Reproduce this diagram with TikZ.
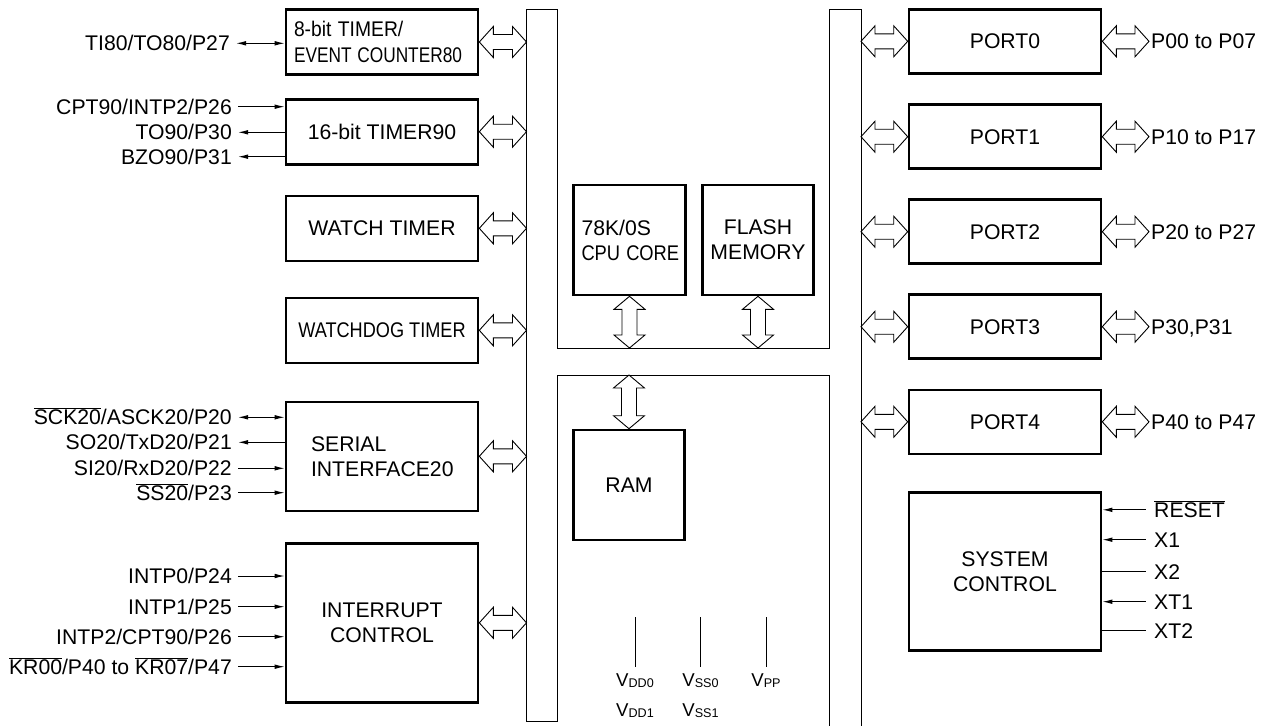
\documentclass[tikz,border=0pt]{standalone}
\usepackage{fontspec}
\setmainfont{Liberation Sans}
\usepackage{graphicx}
\usetikzlibrary{calc,arrows.meta}

\newcommand{\hollowH}[2]{%
  \draw[hollow] let \p1=(#1), \p2=(#2) in
    (\x1,\y1) -- (\x1+14pt,\y1+15.5pt) -- (\x1+14pt,\y1+7.5pt) -- (\x2-14pt,\y1+7.5pt)
    -- (\x2-14pt,\y1+15.5pt) -- (\x2,\y1) -- (\x2-14pt,\y1-15.5pt) -- (\x2-14pt,\y1-7.5pt)
    -- (\x1+14pt,\y1-7.5pt) -- (\x1+14pt,\y1-15.5pt) -- cycle;}
\newcommand{\hollowV}[2]{%
  \draw[hollow] let \p1=(#1), \p2=(#2) in
    (\x1,\y1) -- (\x1+15.5pt,\y1-13pt) -- (\x1+7.5pt,\y1-13pt) -- (\x1+7.5pt,\y2+13pt)
    -- (\x1+15.5pt,\y2+13pt) -- (\x1,\y2) -- (\x1-15.5pt,\y2+13pt) -- (\x1-7.5pt,\y2+13pt)
    -- (\x1-7.5pt,\y1-13pt) -- (\x1-15.5pt,\y1-13pt) -- cycle;}
\newcommand{\vsub}[1]{{\fontsize{18.6}{20}\selectfont V}\raisebox{-0.6pt}{\fontsize{12.6}{13}\selectfont #1}}
\newcommand{\negsig}[1]{$\overline{\mbox{#1}}$}

\begin{document}
\begin{tikzpicture}[x=1pt,y=-1pt,>={Latex[length=10pt,width=4.6pt]},
    font=\fontsize{21.2}{25}\selectfont,
    block/.style={draw,line width=2.6pt,minimum width=192pt,minimum height=65pt,inner sep=0pt},
    pin/.style={inner xsep=6pt,inner ysep=0pt,text height=15pt,text depth=0pt},
    vlab/.style={inner xsep=0pt,inner ysep=6.6pt,text height=13.3pt,text depth=0pt},
    wire/.style={line width=1pt},
    bus/.style={line width=1pt},
    hollow/.style={line width=0.9pt}]
    \useasboundingbox (0,0) rectangle (1277,726);

    % internal bus
    \coordinate (busL) at (526.5,0);
    \coordinate (busR) at (861,0);
    \coordinate (ubot) at (0,348);
    \coordinate (lowtop) at (0,375);
    \coordinate (vtop) at (0,617);
    \draw[bus] (557,375) -- (557,721) -- (526.5,721) -- (526.5,9) -- (557,9) -- (557,348)
               -- (829,348) -- (829,9) -- (861,9) -- (861,726);
    \draw[bus] (557,375) -- (829,375) -- (829,726);

    % left blocks
    \node[block,align=left,text width=176pt,font=\fontsize{21.2}{26.7}\selectfont] (tmr80) at (382,42)
        {\scalebox{0.91}[1]{8-bit TIMER/}\\\scalebox{0.815}[1]{EVENT COUNTER80}};
    \node[block] (tmr90) at (382,131.7) {16-bit TIMER90};
    \node[block] (wtch) at (382,228.3) {WATCH TIMER};
    \node[block] (wdog) at (382,330.3) {\scalebox{0.856}[1]{WATCHDOG TIMER}};
    \node[block,minimum height=109pt,align=left,text width=142pt] (sio) at (382,456.3)
        {SERIAL\\INTERFACE20};
    \node[block,minimum height=159pt,align=center] (intc) at (382,622.8) {INTERRUPT\\CONTROL};

    % core
    \node[block,minimum width=112pt,minimum height=110pt,align=left,text width=96pt] (cpu)
        at (629.5,240) {78K/0S\\\scalebox{0.864}[1]{CPU CORE}};
    \node[block,minimum width=111pt,minimum height=110pt,align=center] (flash)
        at (758,240) {FLASH\\MEMORY};
    \node[block,minimum width=111pt,minimum height=110pt] (ram) at (629,485) {RAM};

    \hollowV{cpu.south}{cpu.south |- ubot}
    \hollowV{flash.south}{flash.south |- ubot}
    \hollowV{ram.north |- lowtop}{ram.north}

    \foreach \b in {tmr80,tmr90,wtch,wdog,sio,intc} {\hollowH{\b.east}{\b.east -| busL}};

    % left pins
    \node[pin,anchor=east] (ti80) at (236,43.3) {TI80/TO80/P27};
    \node[pin,anchor=east] (cpt90) at (238,106.7) {CPT90/INTP2/P26};
    \node[pin,anchor=east] (to90) at (238,132.3) {TO90/P30};
    \node[pin,anchor=east] (bzo90) at (238,156.7) {BZO90/P31};
    \node[pin,anchor=east] (sck20) at (238,417.3) {\negsig{SCK20}/ASCK20/P20};
    \node[pin,anchor=east] (so20) at (238,442.3) {SO20/TxD20/P21};
    \node[pin,anchor=east] (si20) at (238,468.3) {SI20/RxD20/P22};
    \node[pin,anchor=east] (ss20) at (238,492.7) {\negsig{SS20}/P23};
    \node[pin,anchor=east] (intp0) at (238,576) {INTP0/P24};
    \node[pin,anchor=east] (intp1) at (238,606.7) {INTP1/P25};
    \node[pin,anchor=east] (intp2) at (238,636.7) {INTP2/CPT90/P26};
    \node[pin,anchor=east] (kr) at (238,666.7) {\negsig{KR00}/P40 to \negsig{KR07}/P47};

    \path[wire] (ti80.east)  edge[<->] (ti80.east -| tmr80.west)
                (cpt90.east) edge[->]  (cpt90.east -| tmr90.west)
                (to90.east)  edge[<-]  (to90.east -| tmr90.west)
                (bzo90.east) edge[<-]  (bzo90.east -| tmr90.west)
                (sck20.east) edge[<->] (sck20.east -| sio.west)
                (so20.east)  edge[<-]  (so20.east -| sio.west)
                (si20.east)  edge[->]  (si20.east -| sio.west)
                (ss20.east)  edge[->]  (ss20.east -| sio.west)
                (intp0.east) edge[->]  (intp0.east -| intc.west)
                (intp1.east) edge[->]  (intp1.east -| intc.west)
                (intp2.east) edge[->]  (intp2.east -| intc.west)
                (kr.east)    edge[->]  (kr.east -| intc.west);

    % ports
    \foreach \k/\py/\pins in {0/41.3/P00 to P07, 1/136.7/P10 to P17, 2/231.7/P20 to P27,
                              3/326.7/{P30,P31}, 4/421.8/P40 to P47} {
        \node[block,minimum height=64pt] (port\k) at (1005,\py) {PORT\k};
        \node[pin,anchor=west,inner xsep=2pt] (pins\k) at (1149,\py) {\pins};
        \hollowH{port\k.east}{pins\k.west}
        \hollowH{busR |- port\k.west}{port\k.west}
    };

    % system control
    \node[block,minimum height=158pt,align=center] (sysc) at (1005,571.7) {SYSTEM\\CONTROL};
    \foreach \lab/\py/\tip [count=\i] in {{\negsig{RESET}}/509.8/<-, X1/539.7/<-, X2/571.7/-,
                                           XT1/601.7/<-, XT2/630.7/-} {
        \node[pin,anchor=west,inner xsep=8pt] (sys\i) at (1146,\py) {\lab};
        \draw[wire,\tip] (sysc.east |- sys\i.west) -- (sys\i.west);
    };

    % supply pins
    \node[vlab] (vdd0) at (635,680) {\vsub{DD0}};
    \node[vlab] (vss0) at (700.5,680) {\vsub{SS0}};
    \node[vlab] (vpp) at (766,680) {\vsub{PP}};
    \node[vlab] (vdd1) at (635,710) {\vsub{DD1}};
    \node[vlab] (vss1) at (700.5,710) {\vsub{SS1}};
    \foreach \v in {vdd0,vss0,vpp} {\draw[wire] (\v.north) -- (\v.north |- vtop);};
\end{tikzpicture}
\end{document}
